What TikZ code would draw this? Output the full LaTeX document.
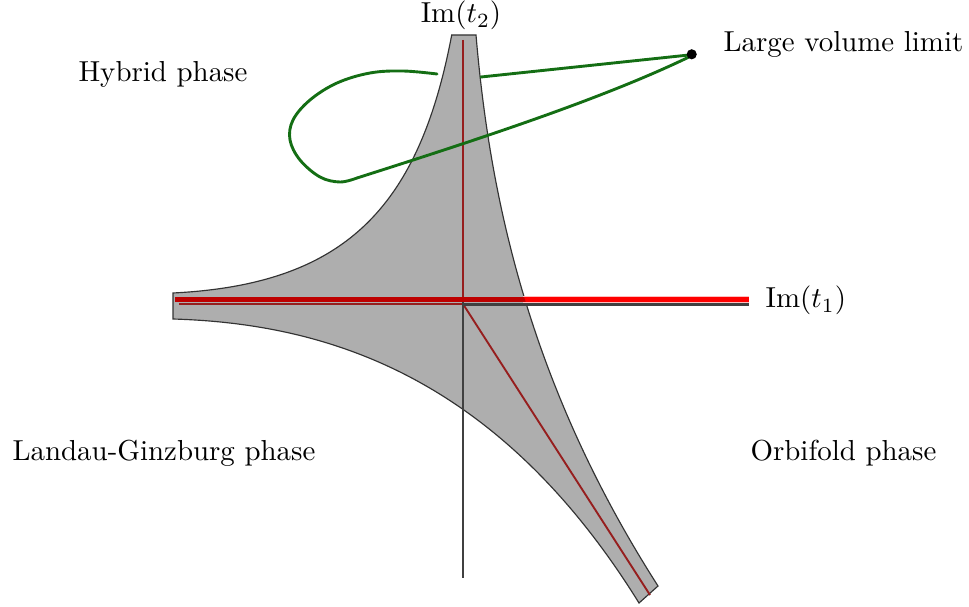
\documentclass[tikz,border=0pt]{standalone}
\begin{document}
\begin{tikzpicture}[x=0.346pt,y=-0.346pt]
\definecolor{regiongray}{RGB}{174,174,174}
\definecolor{cutred}{RGB}{150,30,30}
\definecolor{darkred}{RGB}{190,0,0}
\definecolor{pathgreen}{RGB}{20,110,20}
\tikzset{
  label/.style={inner sep=0pt, font=\fontsize{10}{12}\selectfont},
  cutline/.style={cutred, line width=0.65pt},
  axisline/.style={black!75, line width=0.7pt},
  greenpath/.style={pathgreen, line width=1pt, line cap=round},
}
\useasboundingbox (0,0) rectangle (969,607);
\def\regionoutline{(451.7,35) -- (476,35)
 .. controls (490,200) and (530,386) .. (658,586)
 -- (639,603)
 .. controls (496.4,373) and (323,323.5) .. (173,319)
 -- (173,293)
 .. controls (343,284.5) and (418.5,210) .. (451.7,35)
 -- cycle}
% region
\filldraw[fill=regiongray, draw=black!80, line width=0.4pt] \regionoutline;
% cut lines
\draw[cutline] (462.7,40) -- (462.7,302);
\draw[cutline] (463,304) -- (650,595);
\draw[cutline] (179,304) -- (462.7,304);
% axes
\draw[axisline] (462.7,302) -- (462.7,578);
\draw[axisline] (462.7,304.5) -- (749,304.5);
% thick red line
\draw[red!25, line width=2.6pt] (523,299.5) -- (749,299.5);
\draw[red, line width=1.8pt] (175,299.5) -- (749,299.5);
\begin{scope}
\clip \regionoutline;
\draw[darkred, line width=1.8pt] (175,299.5) -- (749,299.5);
\end{scope}
% green path
\draw[greenpath] plot[smooth, tension=0.6] coordinates {(437,74) (403,71) (370,73) (337,83) (310,100) (293,120) (290,140) (300,160) (320,177) (340,182) (357,178)}
  .. controls (470,142) and (600,100) .. (689,57);
\draw[greenpath] (481,77) -- (689,55);
\fill (691.7,54.3) circle[radius=1.75pt];
% labels
\node[label, anchor=base] (imt2) at (461,23) {$\mathrm{Im}(t_2)$};
\node[label, anchor=base west] (lvl) at (723,51.7) {Large volume limit};
\node[label, anchor=base] (hyb) at (163,82) {Hybrid phase};
\node[label, anchor=base west] (imt1) at (765,308) {$\mathrm{Im}(t_1)$};
\node[label, anchor=base west] (lg) at (12,460) {Landau-Ginzburg phase};
\node[label, anchor=base west] (orb) at (750,460) {Orbifold phase};
\end{tikzpicture}
\end{document}
